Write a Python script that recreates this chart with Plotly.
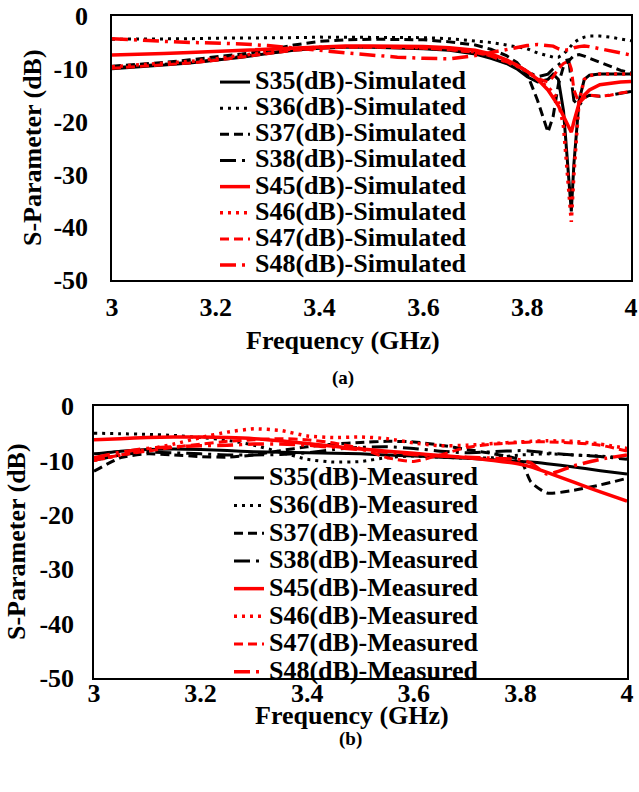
import plotly.graph_objects as go

# ---------------- data: (a) simulated ----------------
f_sim = [3.0, 3.05, 3.1, 3.15, 3.2, 3.25, 3.3, 3.35, 3.4, 3.45, 3.5, 3.55, 3.6, 3.65, 3.7,
         3.73, 3.76, 3.78, 3.8, 3.82, 3.84, 3.85, 3.86, 3.87, 3.88, 3.885, 3.89, 3.9, 3.91,
         3.92, 3.94, 3.96, 3.98, 4.0]

s35_sim = [-10.0, -9.7, -9.3, -8.9, -8.4, -7.8, -7.1, -6.5, -6.1, -5.9, -5.9, -6.0, -6.2, -6.5, -7.2,
           -8.0, -9.0, -10.0, -11.5, -12.5, -12.0, -11.0, -12.0, -18.0, -30.0, -37.0, -28.0, -16.0, -12.0,
           -11.2, -11.0, -11.0, -11.0, -11.0]
s36_sim = [-4.4, -4.4, -4.3, -4.3, -4.2, -4.2, -4.1, -4.1, -4.0, -4.0, -4.0, -4.0, -4.1, -4.3, -4.7,
           -5.0, -5.5, -5.8, -6.2, -7.0, -7.6, -7.8, -7.8, -7.2, -6.2, -5.5, -5.0, -4.4, -4.0,
           -3.8, -3.8, -4.0, -4.3, -4.7]
s37_sim = [-9.5, -9.2, -8.8, -8.3, -7.8, -7.2, -6.5, -5.5, -4.8, -4.5, -4.4, -4.4, -4.5, -4.9, -5.5,
           -6.3, -7.5, -8.8, -11.0, -16.0, -22.0, -19.0, -13.0, -9.5, -8.6, -8.0, -7.5, -7.3, -7.6,
           -8.0, -8.8, -9.6, -10.3, -10.8]
s38_sim = [-9.8, -9.5, -9.2, -8.8, -8.3, -7.7, -7.0, -6.4, -6.0, -5.8, -5.8, -5.9, -6.1, -6.4, -7.0,
           -7.6, -8.5, -9.3, -10.5, -11.5, -11.0, -10.0, -9.2, -8.5, -8.3, -12.0, -16.0, -17.0, -15.5,
           -15.0, -15.2, -15.0, -14.6, -14.3]
s45_sim = [-7.4, -7.3, -7.1, -6.9, -6.7, -6.5, -6.2, -6.0, -5.8, -5.7, -5.7, -5.7, -5.8, -6.0, -6.5,
           -7.2, -8.3, -9.3, -10.5, -12.0, -14.0, -15.5, -17.0, -19.0, -21.0, -22.0, -20.0, -16.5, -15.0,
           -14.0, -13.0, -12.7, -12.5, -12.4]
s46_sim = [-9.6, -9.3, -9.0, -8.6, -8.1, -7.5, -6.8, -6.2, -5.9, -5.8, -5.8, -5.9, -6.0, -6.3, -6.8,
           -7.5, -8.6, -9.5, -10.5, -12.0, -13.5, -14.5, -16.0, -21.0, -32.0, -39.0, -30.0, -16.0, -12.0,
           -11.3, -11.0, -11.0, -11.0, -11.0]
s47_sim = [-9.9, -9.6, -9.3, -8.9, -8.4, -7.8, -7.1, -6.5, -6.1, -5.9, -5.9, -6.0, -6.1, -6.4, -6.9,
           -7.6, -8.6, -9.4, -10.5, -11.8, -12.5, -11.5, -10.0, -9.0, -8.5, -10.0, -14.0, -16.5, -15.5,
           -15.0, -15.2, -15.0, -14.6, -14.3]
s48_sim = [-4.3, -4.6, -4.8, -5.0, -5.1, -5.3, -5.6, -6.0, -6.5, -7.0, -7.4, -7.8, -8.0, -8.1, -7.5,
           -6.9, -6.3, -5.9, -5.6, -5.4, -5.5, -5.7, -6.2, -6.5, -6.4, -6.2, -6.0, -5.8, -5.7,
           -5.8, -6.2, -6.6, -7.0, -7.4]

# ---------------- data: (b) measured ----------------
f_meas = [3.0, 3.05, 3.1, 3.15, 3.2, 3.25, 3.3, 3.35, 3.4, 3.45, 3.5, 3.55, 3.6, 3.65, 3.7,
          3.75, 3.8, 3.82, 3.85, 3.9, 3.95, 4.0]

s35_meas = [-8.8, -8.3, -8.0, -7.9, -8.0, -8.2, -8.4, -8.5, -8.6, -8.7, -8.8, -9.0, -9.2, -9.4, -9.6,
            -9.9, -10.2, -10.3, -10.6, -11.2, -11.9, -12.5]
s36_meas = [-5.0, -5.1, -5.2, -5.4, -5.8, -6.3, -7.2, -8.5, -9.8, -10.3, -10.2, -9.5, -9.2, -9.4, -9.6,
            -9.5, -9.0, -8.9, -8.8, -9.0, -9.2, -9.6]
s37_meas = [-12.0, -9.5, -8.8, -9.0, -9.3, -9.4, -9.0, -8.2, -7.5, -7.0, -6.7, -6.5, -6.6, -7.2, -8.0,
            -8.8, -10.0, -14.0, -16.0, -15.5, -14.5, -13.3]
s38_meas = [-10.0, -9.0, -8.5, -8.6, -8.8, -9.0, -9.0, -8.9, -8.6, -8.0, -7.6, -7.5, -7.8, -8.3, -8.6,
            -8.4, -8.2, -8.3, -8.6, -9.0, -9.3, -9.8]
s45_meas = [-6.2, -6.0, -5.8, -5.7, -5.7, -5.8, -6.0, -6.4, -6.9, -7.4, -7.9, -8.3, -8.7, -9.1, -9.5,
            -10.0, -10.7, -11.2, -12.2, -14.0, -15.8, -17.5]
s46_meas = [-10.0, -9.0, -8.0, -7.0, -5.8, -4.8, -4.2, -4.5, -5.5, -5.8, -5.7, -6.0, -6.8, -7.3, -7.2,
            -6.9, -6.6, -6.5, -6.4, -6.5, -7.0, -7.8]
s47_meas = [-10.0, -9.0, -8.3, -7.6, -7.0, -6.5, -6.2, -6.0, -6.2, -6.8, -7.8, -9.5, -10.2, -9.0, -7.6,
            -7.0, -6.7, -6.6, -6.6, -6.8, -7.2, -8.3]
s48_meas = [-9.5, -8.5, -7.8, -7.5, -7.3, -7.2, -7.0, -7.0, -7.2, -7.6, -8.0, -8.5, -8.9, -9.2, -9.4,
            -9.6, -9.9, -10.5, -12.5, -11.0, -9.8, -9.0]

ports = ["S35", "S36", "S37", "S38", "S45", "S46", "S47", "S48"]
sim_series = [s35_sim, s36_sim, s37_sim, s38_sim, s45_sim, s46_sim, s47_sim, s48_sim]
meas_series = [s35_meas, s36_meas, s37_meas, s38_meas, s45_meas, s46_meas, s47_meas, s48_meas]

x_ticks = [3.0, 3.2, 3.4, 3.6, 3.8, 4.0]
x_tick_text = ["3", "3.2", "3.4", "3.6", "3.8", "4"]
y_ticks = [0, -10, -20, -30, -40, -50]
y_tick_text = ["0", "-10", "-20", "-30", "-40", "-50"]

# ---------------- styles ----------------
colors = ["#000000"] * 4 + ["#FF0000"] * 4
dashes = ["solid", "3px,5px", "9px,5px", "16px,6px,3px,6px"] * 2
widths = [3, 3, 3, 3, 3.5, 3.5, 3, 3.5]

FONT = "Liberation Serif, Times New Roman, serif"

fig = go.Figure()

for name, ys, c, d, w in zip(ports, sim_series, colors, dashes, widths):
    fig.add_trace(go.Scatter(
        x=f_sim, y=ys, mode="lines", xaxis="x", yaxis="y", legend="legend",
        name=f"<span style='font-size:26px'>{name}(dB)-Simulated</span>",
        line=dict(color=c, width=w, dash=d)))

for name, ys, c, d, w in zip(ports, meas_series, colors, dashes, widths):
    fig.add_trace(go.Scatter(
        x=f_meas, y=ys, mode="lines", xaxis="x2", yaxis="y2", legend="legend2",
        name=f"<span style='font-size:26px'>{name}(dB)-Measured</span>",
        line=dict(color=c, width=w, dash=d, shape="spline", smoothing=0.6)))

W, H = 639, 792


def px(v):
    return v / W


def py(v):
    return 1 - v / H


axis_common = dict(showgrid=False, zeroline=False, showline=True, mirror=True,
                   linecolor="#000000", linewidth=1.5, ticks="", automargin=False,
                   ticklabeloverflow="allow",
                   tickfont=dict(family=FONT, size=26, color="#000000", weight="bold"))

fig.update_layout(
    template="none",
    width=W, height=H, margin=dict(l=0, r=0, t=0, b=0, autoexpand=False),
    paper_bgcolor="white", plot_bgcolor="white",
    font=dict(family=FONT, color="#000000"),
    xaxis=dict(domain=[px(112), px(631)], range=[3, 4], tickvals=x_ticks, ticktext=x_tick_text,
               anchor="y", ticklabelstandoff=3, **axis_common),
    yaxis=dict(domain=[py(280), py(16)], range=[-50, 0], tickvals=y_ticks, ticktext=y_tick_text,
               anchor="x", ticklabelstandoff=17, **axis_common),
    xaxis2=dict(domain=[px(94), px(627)], range=[3, 4], tickvals=x_ticks, ticktext=x_tick_text,
                anchor="y2", ticklabelstandoff=-9, **axis_common),
    yaxis2=dict(domain=[py(678), py(406)], range=[-50, 0], tickvals=y_ticks, ticktext=y_tick_text,
                anchor="x2", ticklabelstandoff=13, **axis_common),
    legend=dict(x=px(215), y=py(64), xanchor="left", yanchor="top",
                bgcolor="rgba(0,0,0,0)", borderwidth=0, tracegroupgap=0,
                font=dict(family=FONT, size=17.8, color="#000000", weight="bold")),
    legend2=dict(x=px(229), y=py(459), xanchor="left", yanchor="top",
                 bgcolor="rgba(0,0,0,0)", borderwidth=0, tracegroupgap=0,
                 font=dict(family=FONT, size=19, color="#000000", weight="bold")),
    showlegend=True,
)

ann_font = dict(family=FONT, size=26, color="#000000", weight="bold")
fig.add_annotation(text="S-Parameter (dB)", x=px(32), y=py(148), xref="paper", yref="paper",
                   textangle=-90, showarrow=False, font=ann_font, xanchor="center", yanchor="middle")
fig.add_annotation(text="Frequency (GHz)", x=px(343), y=py(340), xref="paper", yref="paper",
                   showarrow=False, font=ann_font, xanchor="center", yanchor="middle")
fig.add_annotation(text="(a)", x=px(343), y=py(378), xref="paper", yref="paper",
                   showarrow=False, font=dict(family=FONT, size=19, color="#000000", weight="bold"),
                   xanchor="center", yanchor="middle")
fig.add_annotation(text="S-Parameter (dB)", x=px(16), y=py(542), xref="paper", yref="paper",
                   textangle=-90, showarrow=False, font=ann_font, xanchor="center", yanchor="middle")
fig.add_annotation(text="Frequency (GHz)", x=px(352), y=py(715), xref="paper", yref="paper",
                   showarrow=False, font=ann_font, xanchor="center", yanchor="middle")
fig.add_annotation(text="(b)", x=px(350), y=py(739), xref="paper", yref="paper",
                   showarrow=False, font=dict(family=FONT, size=19, color="#000000", weight="bold"),
                   xanchor="center", yanchor="middle")

# remove the browser's default page margin so the figure fills the 639x792 window exactly
fig.write_html("out.html", config={"displayModeBar": False},
               post_script="document.body.style.margin='0';document.body.style.overflow='hidden';")
